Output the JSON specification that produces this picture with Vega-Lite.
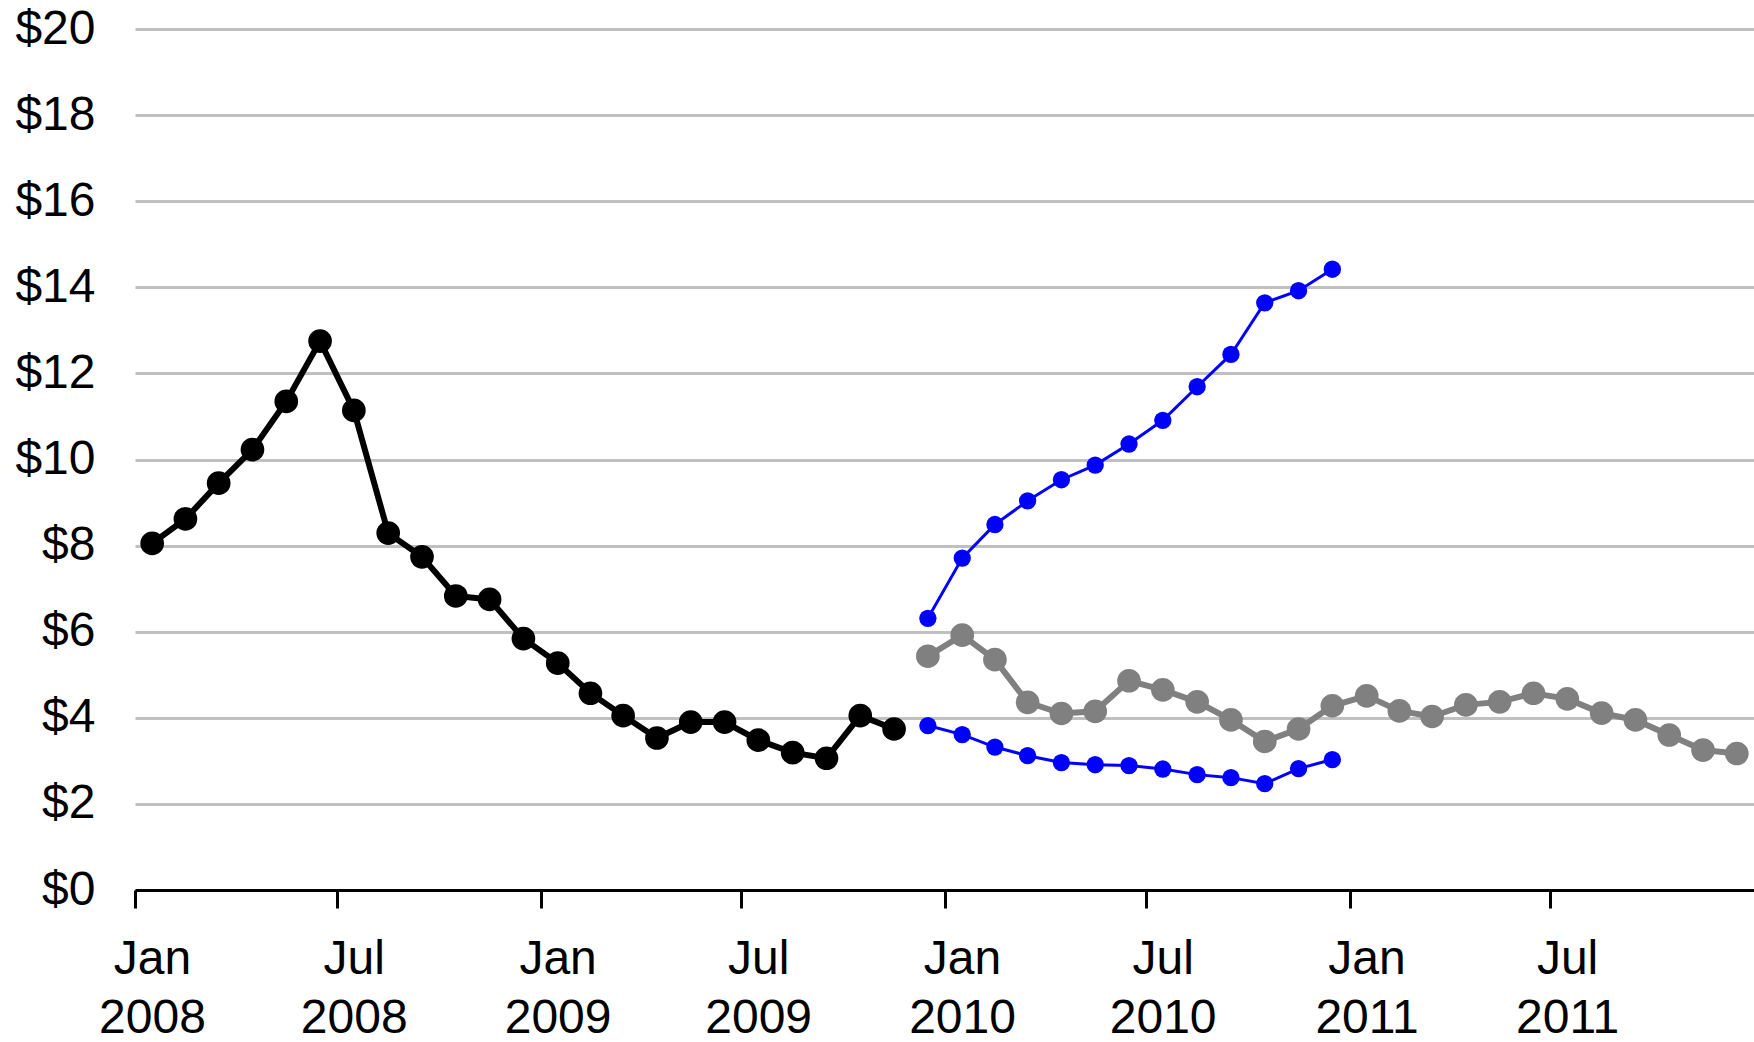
{
  "$schema": "https://vega.github.io/schema/vega-lite/v6.json",
  "width": 1619,
  "height": 861,
  "autosize": {"type": "none"},
  "padding": {"left": 135, "top": 29, "right": 0, "bottom": 152},
  "background": "white",
  "config": {
    "view": {"stroke": null},
    "font": "Liberation Sans",
    "axis": {"labelFont": "Liberation Sans", "labelColor": "black", "titleFont": "Liberation Sans"}
  },
  "datasets": {
    "prices": [
      {"series": "Actual", "date": "2008-01", "value": 8.05},
      {"series": "Actual", "date": "2008-02", "value": 8.62},
      {"series": "Actual", "date": "2008-03", "value": 9.45},
      {"series": "Actual", "date": "2008-04", "value": 10.23},
      {"series": "Actual", "date": "2008-05", "value": 11.35},
      {"series": "Actual", "date": "2008-06", "value": 12.75},
      {"series": "Actual", "date": "2008-07", "value": 11.14},
      {"series": "Actual", "date": "2008-08", "value": 8.29},
      {"series": "Actual", "date": "2008-09", "value": 7.74},
      {"series": "Actual", "date": "2008-10", "value": 6.83},
      {"series": "Actual", "date": "2008-11", "value": 6.75},
      {"series": "Actual", "date": "2008-12", "value": 5.84},
      {"series": "Actual", "date": "2009-01", "value": 5.27},
      {"series": "Actual", "date": "2009-02", "value": 4.57},
      {"series": "Actual", "date": "2009-03", "value": 4.05},
      {"series": "Actual", "date": "2009-04", "value": 3.53},
      {"series": "Actual", "date": "2009-05", "value": 3.9},
      {"series": "Actual", "date": "2009-06", "value": 3.9},
      {"series": "Actual", "date": "2009-07", "value": 3.48},
      {"series": "Actual", "date": "2009-08", "value": 3.19},
      {"series": "Actual", "date": "2009-09", "value": 3.06},
      {"series": "Actual", "date": "2009-10", "value": 4.05},
      {"series": "Actual", "date": "2009-11", "value": 3.74},

      {"series": "Forecast", "date": "2009-12", "value": 5.43},
      {"series": "Forecast", "date": "2010-01", "value": 5.92},
      {"series": "Forecast", "date": "2010-02", "value": 5.35},
      {"series": "Forecast", "date": "2010-03", "value": 4.36},
      {"series": "Forecast", "date": "2010-04", "value": 4.1},
      {"series": "Forecast", "date": "2010-05", "value": 4.15},
      {"series": "Forecast", "date": "2010-06", "value": 4.86},
      {"series": "Forecast", "date": "2010-07", "value": 4.65},
      {"series": "Forecast", "date": "2010-08", "value": 4.37},
      {"series": "Forecast", "date": "2010-09", "value": 3.95},
      {"series": "Forecast", "date": "2010-10", "value": 3.45},
      {"series": "Forecast", "date": "2010-11", "value": 3.74},
      {"series": "Forecast", "date": "2010-12", "value": 4.28},
      {"series": "Forecast", "date": "2011-01", "value": 4.51},
      {"series": "Forecast", "date": "2011-02", "value": 4.16},
      {"series": "Forecast", "date": "2011-03", "value": 4.03},
      {"series": "Forecast", "date": "2011-04", "value": 4.3},
      {"series": "Forecast", "date": "2011-05", "value": 4.37},
      {"series": "Forecast", "date": "2011-06", "value": 4.57},
      {"series": "Forecast", "date": "2011-07", "value": 4.44},
      {"series": "Forecast", "date": "2011-08", "value": 4.11},
      {"series": "Forecast", "date": "2011-09", "value": 3.95},
      {"series": "Forecast", "date": "2011-10", "value": 3.6},
      {"series": "Forecast", "date": "2011-11", "value": 3.25},
      {"series": "Forecast", "date": "2011-12", "value": 3.17},

      {"series": "Upper", "date": "2009-12", "value": 6.31},
      {"series": "Upper", "date": "2010-01", "value": 7.71},
      {"series": "Upper", "date": "2010-02", "value": 8.49},
      {"series": "Upper", "date": "2010-03", "value": 9.04},
      {"series": "Upper", "date": "2010-04", "value": 9.53},
      {"series": "Upper", "date": "2010-05", "value": 9.87},
      {"series": "Upper", "date": "2010-06", "value": 10.36},
      {"series": "Upper", "date": "2010-07", "value": 10.91},
      {"series": "Upper", "date": "2010-08", "value": 11.69},
      {"series": "Upper", "date": "2010-09", "value": 12.44},
      {"series": "Upper", "date": "2010-10", "value": 13.64},
      {"series": "Upper", "date": "2010-11", "value": 13.92},
      {"series": "Upper", "date": "2010-12", "value": 14.42},

      {"series": "Lower", "date": "2009-12", "value": 3.82},
      {"series": "Lower", "date": "2010-01", "value": 3.61},
      {"series": "Lower", "date": "2010-02", "value": 3.32},
      {"series": "Lower", "date": "2010-03", "value": 3.12},
      {"series": "Lower", "date": "2010-04", "value": 2.96},
      {"series": "Lower", "date": "2010-05", "value": 2.91},
      {"series": "Lower", "date": "2010-06", "value": 2.89},
      {"series": "Lower", "date": "2010-07", "value": 2.81},
      {"series": "Lower", "date": "2010-08", "value": 2.68},
      {"series": "Lower", "date": "2010-09", "value": 2.61},
      {"series": "Lower", "date": "2010-10", "value": 2.47},
      {"series": "Lower", "date": "2010-11", "value": 2.82},
      {"series": "Lower", "date": "2010-12", "value": 3.03}
    ]
  },
  "data": {"name": "prices"},
  "encoding": {
    "x": {
      "field": "date",
      "timeUnit": "utcyearmonth",
      "type": "temporal",
      "bandPosition": 0.5,
      "scale": {
        "domain": [
          {"year": 2008, "month": 1, "date": 1, "utc": true},
          {"year": 2012, "month": 1, "date": 1, "utc": true}
        ]
      },
      "axis": {
        "title": null,
        "grid": false,
        "domain": true,
        "domainColor": "black",
        "domainWidth": 3,
        "ticks": true,
        "tickColor": "black",
        "tickWidth": 3,
        "tickSize": 18,
        "values": [
          {"year": 2008, "month": 1, "date": 1, "utc": true},
          {"year": 2008, "month": 7, "date": 1, "utc": true},
          {"year": 2009, "month": 1, "date": 1, "utc": true},
          {"year": 2009, "month": 7, "date": 1, "utc": true},
          {"year": 2010, "month": 1, "date": 1, "utc": true},
          {"year": 2010, "month": 7, "date": 1, "utc": true},
          {"year": 2011, "month": 1, "date": 1, "utc": true},
          {"year": 2011, "month": 7, "date": 1, "utc": true}
        ],
        "labelExpr": "[utcFormat(datum.value, '%b'), utcFormat(datum.value, '%Y')]",
        "labelFontSize": 48,
        "labelLineHeight": 59,
        "labelOffset": 17,
        "labelAlign": "center",
        "labelPadding": 27,
        "labelFlush": false,
        "labelOverlap": false
      }
    },
    "y": {
      "field": "value",
      "type": "quantitative",
      "scale": {"domain": [0, 20], "nice": false, "zero": true},
      "axis": {
        "title": null,
        "values": [0, 2, 4, 6, 8, 10, 12, 14, 16, 18, 20],
        "labelExpr": "'$' + datum.value",
        "grid": true,
        "gridColor": "#c0c0c0",
        "gridWidth": 3,
        "domain": false,
        "ticks": false,
        "labelFontSize": 48,
        "labelPadding": 40,
        "labelBaseline": "middle"
      }
    }
  },
  "layer": [
    {
      "transform": [{"filter": "datum.series === 'Upper' || datum.series === 'Lower'"}],
      "mark": {"type": "line", "color": "#0000ff", "strokeWidth": 3,
               "point": {"filled": true, "size": 300, "color": "#0000ff", "opacity": 1}},
      "encoding": {"detail": {"field": "series"}}
    },
    {
      "transform": [{"filter": "datum.series === 'Forecast'"}],
      "mark": {"type": "line", "color": "#808080", "strokeWidth": 6,
               "point": {"filled": true, "size": 560, "color": "#808080", "opacity": 1}}
    },
    {
      "transform": [{"filter": "datum.series === 'Actual'"}],
      "mark": {"type": "line", "color": "black", "strokeWidth": 6,
               "point": {"filled": true, "size": 560, "color": "black", "opacity": 1}}
    }
  ]
}
